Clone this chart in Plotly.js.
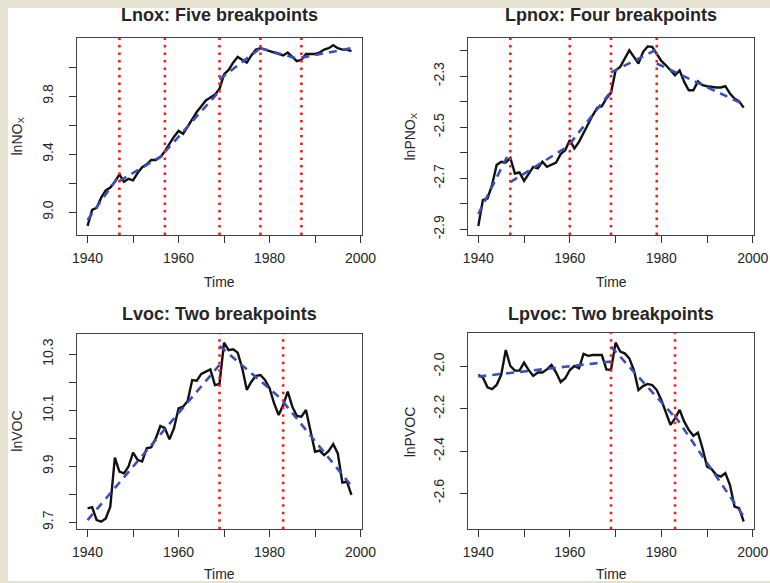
<!DOCTYPE html>
<html>
<head>
<meta charset="utf-8">
<script src="https://cdn.plot.ly/plotly-3.0.1.min.js"></script>
<style>html,body{margin:0;padding:0;background:#e6e2d2;}#chart{width:770px;height:583px;}</style>
</head>
<body>
<div id="chart"></div>
<script>
// ---------- data ----------
const years = [1940,1941,1942,1943,1944,1945,1946,1947,1948,1949,1950,1951,1952,1953,1954,1955,1956,1957,1958,1959,
  1960,1961,1962,1963,1964,1965,1966,1967,1968,1969,1970,1971,1972,1973,1974,1975,1976,1977,1978,1979,
  1980,1981,1982,1983,1984,1985,1986,1987,1988,1989,1990,1991,1992,1993,1994,1995,1996,1997,1998];

const lnox = [8.906,9.016,9.030,9.100,9.150,9.170,9.210,9.260,9.210,9.230,9.220,9.270,9.310,9.330,9.360,9.360,9.380,9.420,9.470,9.520,
  9.560,9.540,9.590,9.640,9.690,9.730,9.770,9.790,9.810,9.850,9.950,9.980,10.030,10.070,10.050,10.030,10.080,10.120,10.130,10.120,
  10.110,10.100,10.090,10.080,10.100,10.070,10.040,10.050,10.090,10.090,10.090,10.100,10.120,10.130,10.150,10.130,10.120,10.120,10.110];
const lnoxFitX = [1940,1947,null,1947,1957,null,1957,1969,null,1969,1978,null,1978,1987,null,1987,1998];
const lnoxFitY = [8.947,9.255,null,9.215,9.400,null,9.415,9.835,null,9.915,10.130,null,10.130,10.050,null,10.065,10.130];
const lnoxBreaks = [1947,1957,1969,1978,1987];

const lpnox = [-2.887,-2.785,-2.779,-2.727,-2.648,-2.635,-2.638,-2.620,-2.681,-2.677,-2.710,-2.683,-2.655,-2.661,-2.635,-2.655,-2.648,-2.638,-2.605,-2.590,
  -2.550,-2.583,-2.557,-2.522,-2.485,-2.453,-2.423,-2.417,-2.387,-2.365,-2.277,-2.263,-2.231,-2.198,-2.224,-2.250,-2.205,-2.183,-2.185,-2.211,
  -2.240,-2.257,-2.277,-2.296,-2.277,-2.322,-2.355,-2.355,-2.320,-2.335,-2.339,-2.342,-2.344,-2.344,-2.339,-2.368,-2.387,-2.398,-2.423];
const lpnoxFitX = [1940,1947,null,1947,1960,null,1960,1969,null,1969,1979,null,1979,1998];
const lpnoxFitY = [-2.840,-2.590,null,-2.715,-2.570,null,-2.565,-2.360,null,-2.285,-2.195,null,-2.250,-2.410];
const lpnoxBreaks = [1947,1960,1969,1979];

const lvoc = [9.750,9.754,9.708,9.702,9.714,9.756,9.931,9.881,9.875,9.899,9.949,9.923,9.917,9.964,9.968,10.000,10.044,10.036,9.996,10.036,
  10.107,10.113,10.133,10.208,10.206,10.230,10.238,10.246,10.190,10.194,10.342,10.315,10.318,10.306,10.250,10.173,10.202,10.223,10.226,10.208,
  10.179,10.125,10.083,10.119,10.167,10.113,10.080,10.077,10.101,10.024,9.952,9.956,9.940,9.955,9.979,9.946,9.842,9.845,9.798];
const lvocFitX = [1940,1969,null,1969,1983,null,1983,1998];
const lvocFitY = [9.708,10.262,null,10.330,10.135,null,10.130,9.830];
const lvocBreaks = [1969,1983];

const lpvoc = [-2.039,-2.051,-2.098,-2.107,-2.087,-2.039,-1.921,-1.997,-2.019,-2.019,-1.981,-2.016,-2.044,-2.028,-2.028,-2.013,-1.992,-2.028,-2.073,-2.055,
  -2.016,-1.997,-2.008,-1.940,-1.949,-1.945,-1.945,-1.945,-2.013,-2.016,-1.886,-1.929,-1.937,-1.961,-2.016,-2.111,-2.092,-2.082,-2.087,-2.111,
  -2.158,-2.213,-2.276,-2.245,-2.205,-2.261,-2.300,-2.328,-2.313,-2.387,-2.474,-2.486,-2.513,-2.521,-2.505,-2.561,-2.663,-2.671,-2.734];
const lpvocFitX = [1940,1969,null,1969,1983,null,1983,1998];
const lpvocFitY = [-2.047,-1.976,null,-1.905,-2.240,null,-2.235,-2.710];
const lpvocBreaks = [1969,1983];

const titles = ['Lnox: Five breakpoints','Lpnox: Four breakpoints','Lvoc: Two breakpoints','Lpvoc: Two breakpoints'];
const yTitles = ['lnNO<sub>X</sub>','lnPNO<sub>X</sub>','lnVOC','lnPVOC'];
const xTitle = 'Time';

// labelled ticks and unlabelled (minor) ticks
const xTickVals = [1940,1960,1980,2000];
const xTickText = ['1940','1960','1980','2000'];
const xMinorVals = [1950,1970,1990];
const y1TickVals = [9.0,9.4,9.8];
const y1TickText = ['9.0','9.4','9.8'];
const y1MinorVals = [9.2,9.6,10.0];
const y2TickVals = [-2.9,-2.7,-2.5,-2.3];
const y2TickText = ['-2.9','-2.7','-2.5','-2.3'];
const y2MinorVals = [-2.8,-2.6,-2.4,-2.2];
const y3TickVals = [9.7,9.9,10.1,10.3];
const y3TickText = ['9.7','9.9','10.1','10.3'];
const y3MinorVals = [9.8,10.0,10.2];
const y4TickVals = [-2.6,-2.4,-2.2,-2.0];
const y4TickText = ['-2.6','-2.4','-2.2','-2.0'];
const y4MinorVals = [];

// ---------- layout geometry (pixels) ----------
const W = 770, H = 583;
const fx = p => p / W;
const fy = p => 1 - p / H;
const boxes = [
  {l:77, r:362, t:38, b:235},
  {l:467.7, r:754.3, t:38, b:235},
  {l:77, r:362, t:334, b:529.3},
  {l:467.7, r:754.3, t:333.3, b:529.3}
];
const xRange = [1937.68, 2000.32];
const yRanges = [[8.843,10.20],[-2.922,-2.150],[9.675,10.3725],[-2.771,-1.842]];

const obs = [lnox, lpnox, lvoc, lpvoc];
const fitX = [lnoxFitX, lpnoxFitX, lvocFitX, lpvocFitX];
const fitY = [lnoxFitY, lpnoxFitY, lvocFitY, lpvocFitY];
const breaks = [lnoxBreaks, lpnoxBreaks, lvocBreaks, lpvocBreaks];
const yTV = [y1TickVals,y2TickVals,y3TickVals,y4TickVals];
const yTT = [y1TickText,y2TickText,y3TickText,y4TickText];
const yMV = [y1MinorVals,y2MinorVals,y3MinorVals,y4MinorVals];

const FONT = 'Liberation Sans, Arial, sans-serif';
const TXT = '#262626';
const traces = [];
const layout = {
  width: W, height: H,
  margin: {l:0, r:0, t:0, b:0},
  paper_bgcolor: '#e6e2d2',
  plot_bgcolor: '#ffffff',
  showlegend: false,
  font: {family: FONT, color: TXT, size: 14},
  shapes: [{type:'rect', xref:'paper', yref:'paper', x0:fx(8), x1:1, y0:fy(581), y1:fy(8),
            fillcolor:'#ffffff', line:{width:0}, layer:'below'}],
  annotations: []
};

function minorSpec(vals) {
  if (!vals.length) return {ticks: '', showgrid: false};
  return {tickmode: 'array', tickvals: vals, ticks: 'outside', ticklen: 7,
          tickcolor: '#333', tickwidth: 1, showgrid: false};
}

for (let i = 0; i < 4; i++) {
  const n = i === 0 ? '' : String(i + 1);
  const xa = 'x' + n, ya = 'y' + n;
  const b = boxes[i];
  traces.push({x: years, y: obs[i], xaxis: xa, yaxis: ya, type: 'scatter', mode: 'lines',
               line: {color: '#111111', width: 2.4}, hoverinfo: 'skip'});
  traces.push({x: fitX[i], y: fitY[i], xaxis: xa, yaxis: ya, type: 'scatter', mode: 'lines',
               connectgaps: false, line: {color: '#3b4fb8', width: 2.6, dash: '8px,6px'}, hoverinfo: 'skip'});
  layout['xaxis' + n] = {
    domain: [fx(b.l), fx(b.r)], anchor: ya, range: xRange,
    tickmode: 'array', tickvals: xTickVals, ticktext: xTickText,
    ticks: 'outside', ticklen: 7, tickcolor: '#333', tickwidth: 1,
    ticklabelstandoff: 3,
    minor: minorSpec(xMinorVals),
    showline: true, mirror: true, linecolor: '#444', linewidth: 1,
    showgrid: false, zeroline: false,
    tickfont: {family: FONT, size: 14, color: TXT}
  };
  layout['yaxis' + n] = {
    domain: [fy(b.b), fy(b.t)], anchor: xa, range: yRanges[i],
    tickmode: 'array', tickvals: yTV[i], ticktext: yTT[i], tickangle: -90,
    ticks: 'outside', ticklen: 7, tickcolor: '#333', tickwidth: 1,
    ticklabelstandoff: 10,
    minor: minorSpec(yMV[i]),
    showline: true, mirror: true, linecolor: '#444', linewidth: 1,
    showgrid: false, zeroline: false,
    tickfont: {family: FONT, size: 14, color: TXT}
  };
  breaks[i].forEach(bx => {
    layout.shapes.push({type: 'line', xref: xa, yref: ya + ' domain', x0: bx, x1: bx, y0: 0, y1: 1,
      line: {color: '#ff1a1a', width: 2.6, dash: '2.5px,5px'}, layer: 'above'});
  });
  const cx = (b.l + b.r) / 2, cy = (b.t + b.b) / 2;
  layout.annotations.push({text: '<b>' + titles[i] + '</b>', xref: 'paper', yref: 'paper',
    x: fx(cx), y: fy(i < 2 ? 15 : 314), xanchor: 'center', yanchor: 'middle', showarrow: false,
    font: {family: FONT, size: 18, color: TXT}});
  layout.annotations.push({text: xTitle, xref: 'paper', yref: 'paper',
    x: fx(cx), y: fy(i < 2 ? 282 : 574), xanchor: 'center', yanchor: 'middle', showarrow: false,
    font: {family: FONT, size: 14, color: TXT}});
  layout.annotations.push({text: yTitles[i], xref: 'paper', yref: 'paper', textangle: -90,
    x: fx(i % 2 === 0 ? 17 : 410), y: fy(cy), xanchor: 'center', yanchor: 'middle', showarrow: false,
    font: {family: FONT, size: 14, color: TXT}});
}

Plotly.newPlot('chart', traces, layout, {staticPlot: true, displayModeBar: false});
</script>
</body>
</html>
